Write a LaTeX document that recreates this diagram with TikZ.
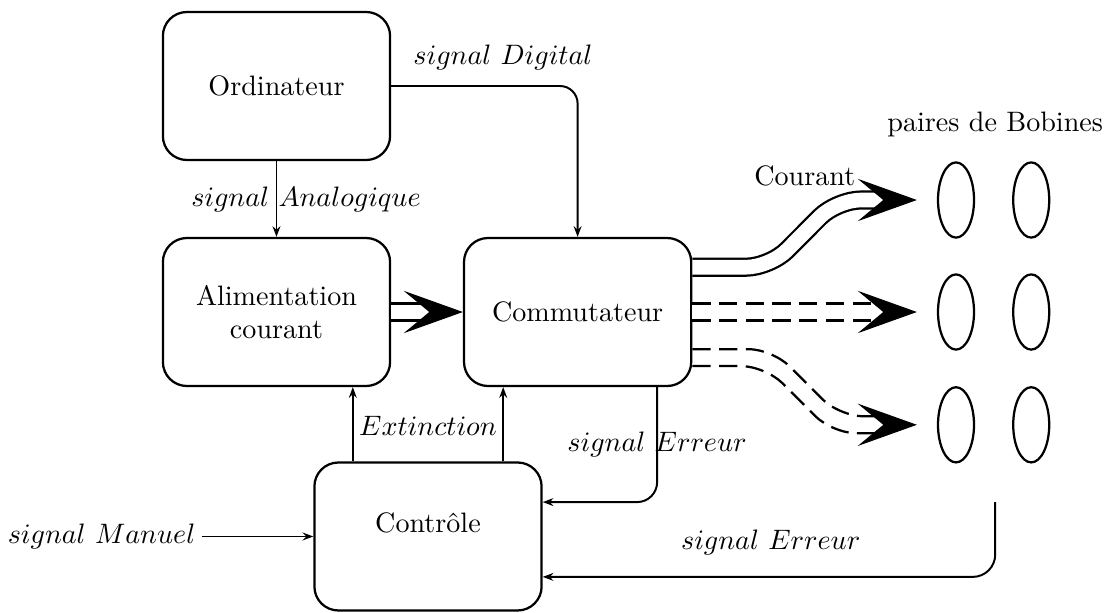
\documentclass[tikz,border=0pt]{standalone}
\usepackage{amsmath,amssymb}
\usepackage{tikz}
\usetikzlibrary{shapes.geometric, arrows.meta, positioning, calc}

\begin{document}
\begin{tikzpicture}[
    bloc/.style={draw, thick, rounded corners=0.3cm, minimum width=2.84cm, minimum height=1.85cm, align=center},
    sig/.style={line width=0.7pt, -{Stealth[length=3.8pt, width=2.8pt, inset=1.3pt]}},
    puiss/.style={thick, double, double distance=5.2pt},
    fil/.style={thick, dash pattern=on 6.5pt off 3pt},
    pointille/.style={dash pattern=on 6.5pt off 3pt},
    tete/.style={line width=0.4pt, -{Stealth[length=0.74cm, width=0.53cm, inset=0.32cm]}},
    bobine/.style={draw, thick, ellipse, minimum width=0.45cm, minimum height=0.94cm, inner sep=0pt}
]
    \useasboundingbox (0,0) rectangle (13.8375,-7.65);

    % blocs
    \node[bloc] (ord) at (3.456,-1.075) {Ordinateur};
    \node[bloc] (alim) at (3.456,-3.9) {Alimentation\\courant};
    \node[bloc] (comm) at (7.22,-3.9) {Commutateur};
    \node[bloc, text depth=0.36cm] (ctrl) at (5.35,-6.706) {Contrôle};

    % bobines
    \node (paires) at (12.44,-1.56) {paires de Bobines};
    \node[bobine] (b1g) at (11.95,-2.5) {};
    \node[bobine] (b1d) at (12.89,-2.5) {};
    \node[bobine] (b2g) at (11.95,-3.9) {};
    \node[bobine] (b2d) at (12.89,-3.9) {};
    \node[bobine] (b3g) at (11.95,-5.31) {};
    \node[bobine] (b3d) at (12.89,-5.31) {};
    \coordinate (p1) at ([xshift=-0.25cm]b1g.west);
    \coordinate (p2) at ([xshift=-0.25cm]b2g.west);
    \coordinate (p3) at ([xshift=-0.25cm]b3g.west);
    \coordinate (err) at (12.44,-6.275);

    % courant
    \draw[puiss] (alim) -- ([xshift=-0.45cm]comm.west);
    \draw[tete] ([xshift=-0.3cm]comm.west) -- (comm.west);
    \draw[puiss, rounded corners=0.3cm] ([yshift=0.56cm]comm.east) -- (9.625,-3.34) -- (10.46,-2.5) -- ([xshift=-0.45cm]p1);
    \draw[tete] ([xshift=-0.3cm]p1) -- (p1);
    \draw[puiss, pointille] (comm.east) -- ([xshift=-0.45cm]p2);
    \draw[tete] ([xshift=-0.3cm]p2) -- (p2);
    \draw[fil, rounded corners=0.3cm] ([yshift=-0.464cm]comm.east) -- (9.654,-4.364) -- (10.494,-5.204) -- ([xshift=-0.45cm, yshift=0.106cm]p3);
    \draw[fil, rounded corners=0.3cm] ([yshift=-0.676cm]comm.east) -- (9.566,-4.576) -- (10.406,-5.416) -- ([xshift=-0.45cm, yshift=-0.106cm]p3);
    \draw[tete] ([xshift=-0.3cm]p3) -- (p3);
    \node (courant) at (10.06,-2.2) {Courant};

    % signaux
    \draw[sig] (ord) -- node[xshift=0.37cm] {$signal\ Analogique$} (alim);
    \draw[sig, rounded corners=0.22cm] (ord) -| node[above=0.07cm, pos=0.3] {$signal\ Digital$} (comm);
    \draw[sig, rounded corners=0.25cm] ([xshift=-0.44cm]comm.south east) |- node[pos=0.25] {$signal\ Erreur$} ([yshift=0.43cm]ctrl.east);
    \draw[sig] ([xshift=-0.94cm]ctrl.north) -- ([xshift=-0.94cm]ctrl.north |- alim.south);
    \draw[sig] ([xshift=0.94cm]ctrl.north) -- ([xshift=0.94cm]ctrl.north |- comm.south);
    \node (ext) at ([yshift=0.44cm]ctrl.north) {$Extinction$};
    \node[inner sep=2pt] (man) at (1.27,-6.706) {$signal\ Manuel$};
    \draw[sig] (man) -- (ctrl);
    \draw[sig, rounded corners=0.28cm] (err) |- node[above=0.14cm, pos=0.748] {$signal\ Erreur$} ([yshift=-0.505cm]ctrl.east);
\end{tikzpicture}
\end{document}
